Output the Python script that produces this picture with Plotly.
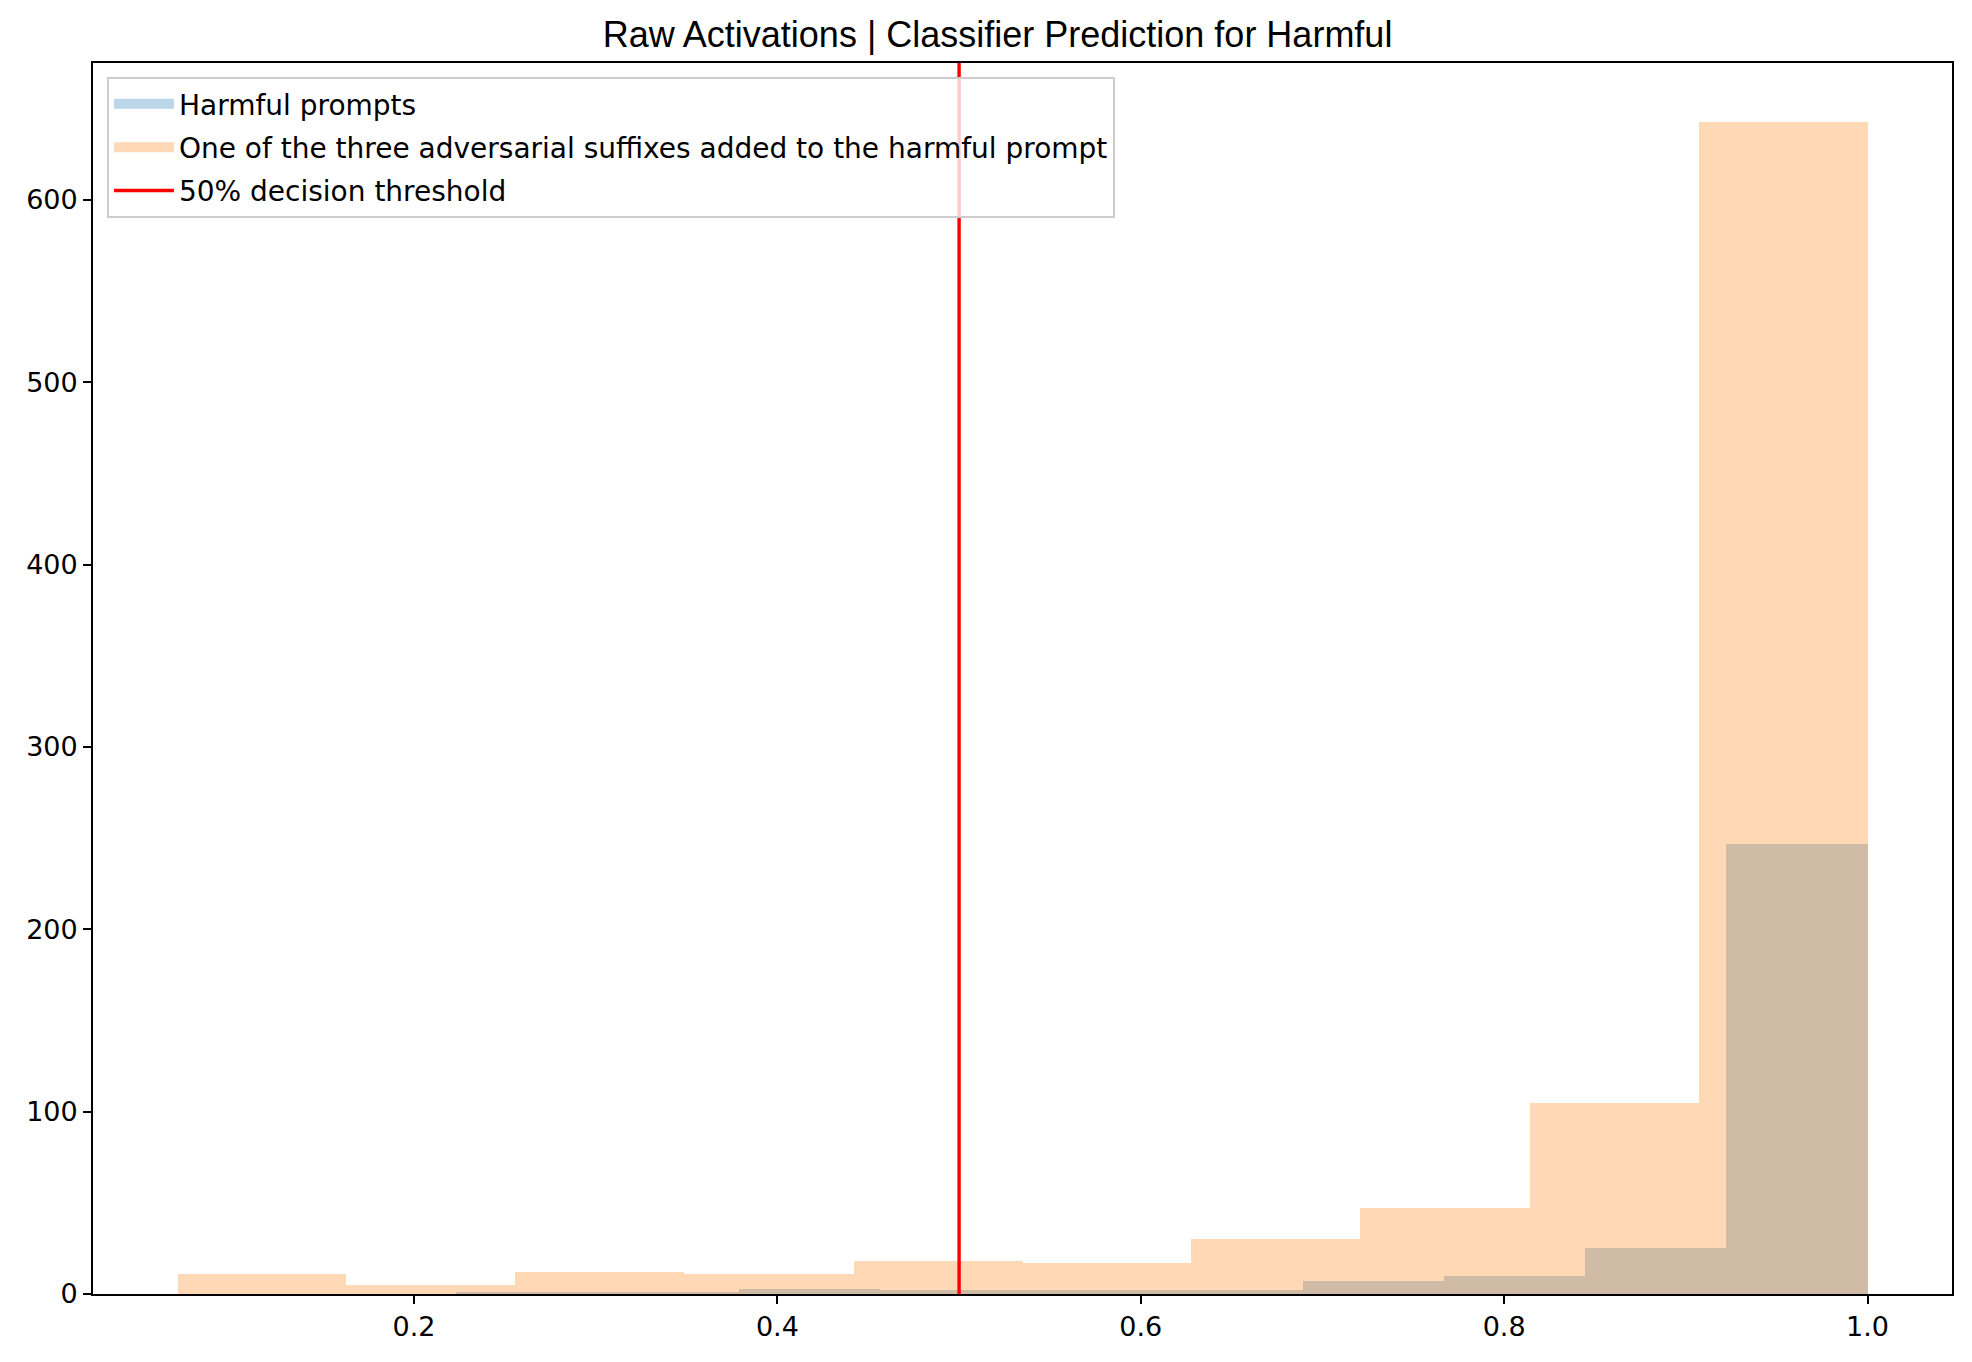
import plotly.graph_objs as go

# histogram bins
harmful_edges = [0.2232, 0.3009, 0.3786, 0.4563, 0.5339, 0.6116,
                 0.6893, 0.7670, 0.8447, 0.9223, 1.0]
harmful_counts = [1, 1, 3, 2, 2, 2, 7, 10, 25, 247]

suffix_edges = [0.0698, 0.1628, 0.2558, 0.3488, 0.4419, 0.5349,
                0.6279, 0.7209, 0.8140, 0.9070, 1.0]
suffix_counts = [11, 5, 12, 11, 18, 17, 30, 47, 105, 643]

threshold = 0.5

x_ticks = [0.2, 0.4, 0.6, 0.8, 1.0]
y_ticks = [0, 100, 200, 300, 400, 500, 600]

labels = ["Harmful prompts",
          "One of the three adversarial suffixes added to the harmful prompt",
          "50% decision threshold"]
title = "Raw Activations | Classifier Prediction for Harmful"

BLUE = "rgba(31,119,180,0.3)"
ORANGE = "rgba(255,127,14,0.3)"


def _hist_bar(edges, counts, color, name):
    lefts = edges[:-1]
    widths = [edges[i + 1] - edges[i] for i in range(len(counts))]
    return go.Bar(x=lefts, y=counts, width=widths, offset=0, name=name,
                  showlegend=False, marker=dict(color=color, line=dict(width=0)),
                  hoverinfo="none")


def _legend_patch(color, name):
    # thick line so the legend swatch looks like a matplotlib patch
    return go.Scatter(x=[None], y=[None], mode="lines", name=name, legendgroup=name,
                      line=dict(color=color, width=18), hoverinfo="none")


# matplotlib style autoscale: 5% margins
x_lo = min(harmful_edges[0], suffix_edges[0])
x_hi = max(harmful_edges[-1], suffix_edges[-1])
pad = 0.05 * (x_hi - x_lo)
y_top = 1.05 * max(max(harmful_counts), max(suffix_counts))

data = [
    _hist_bar(harmful_edges, harmful_counts, BLUE, labels[0]),
    _hist_bar(suffix_edges, suffix_counts, ORANGE, labels[1]),
    _legend_patch(BLUE, labels[0]),
    _legend_patch(ORANGE, labels[1]),
    go.Scatter(x=[threshold, threshold], y=[0, y_top], mode="lines", name=labels[2],
               legendgroup=labels[2], line=dict(color="red", width=3.4),
               hoverinfo="none"),
]

tick_font = dict(family="DejaVu Sans", size=27, color="black")
x_layout = dict(range=[x_lo - pad, x_hi + pad], tickvals=x_ticks,
                ticktext=["%.1f" % v for v in x_ticks], ticks="outside",
                ticklen=8, tickwidth=1.8, tickcolor="black", showgrid=False,
                zeroline=False, showline=True, linecolor="black", linewidth=1.8,
                mirror=True, tickfont=tick_font)
y_layout = dict(range=[0, y_top], tickvals=y_ticks, ticks="outside",
                ticklen=8, tickwidth=1.8, tickcolor="black", showgrid=False,
                zeroline=False, showline=True, linecolor="black", linewidth=1.8,
                mirror=True, tickfont=tick_font)

layout = go.Layout(
    title=dict(text=title, x=0.4866, xref="paper", xanchor="center",
               y=1 - 26.0 / 1354, yanchor="middle",
               font=dict(family="Liberation Sans", size=36, color="black")),
    width=1964,
    height=1354,
    margin=dict(l=85, r=20, t=55, b=68),
    barmode="overlay",
    bargap=0,
    plot_bgcolor="white",
    paper_bgcolor="white",
    showlegend=True,
    legend=dict(x=0.0075, y=0.9886, xanchor="left", yanchor="top",
                bgcolor="rgba(255,255,255,0.8)", bordercolor="rgb(204,204,204)",
                borderwidth=2, traceorder="grouped", tracegroupgap=4,
                itemwidth=60,
                font=dict(family="DejaVu Sans", size=28, color="black")),
    xaxis=x_layout,
    yaxis=y_layout,
)

fig = go.Figure(data=data, layout=layout)
fig.write_html("out.html")
